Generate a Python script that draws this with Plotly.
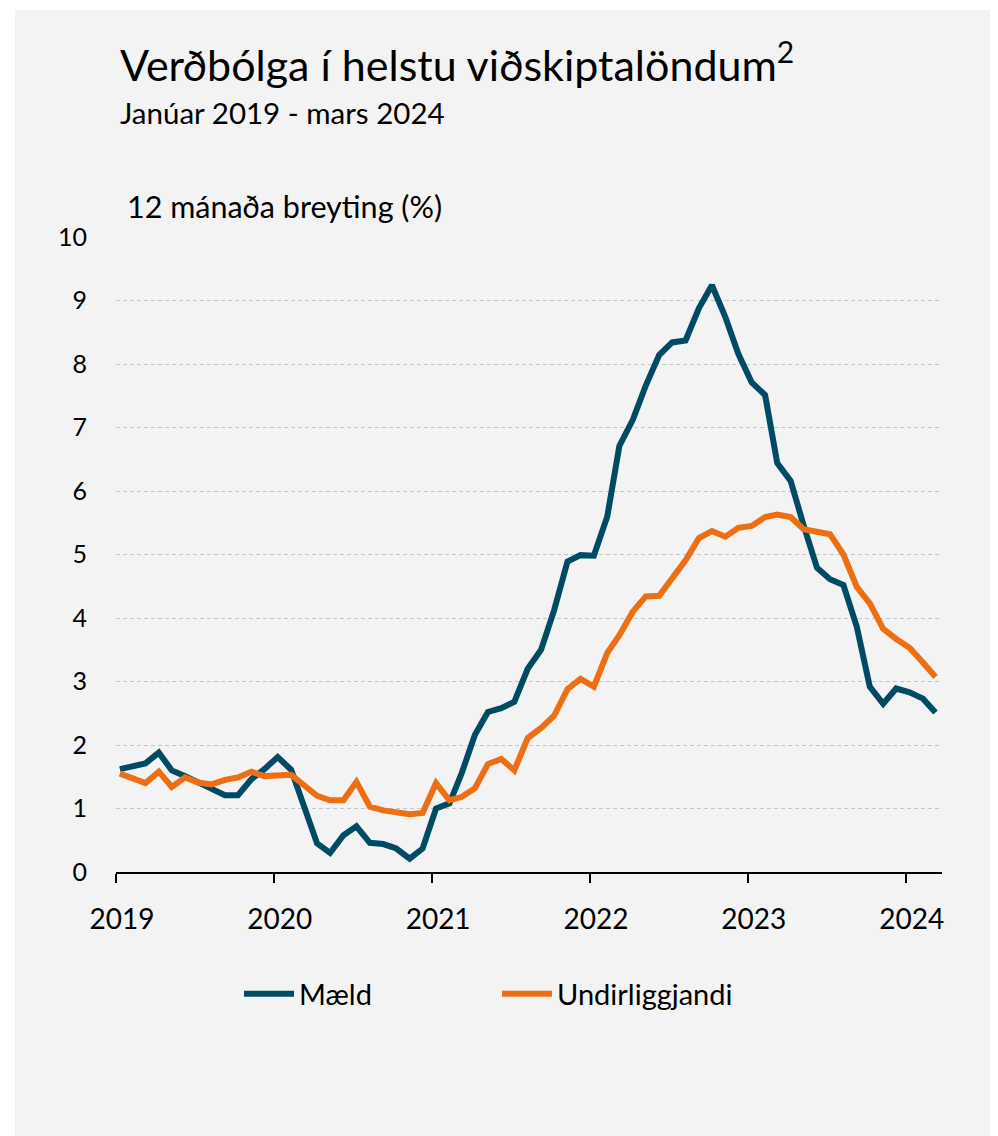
import pandas as pd
import plotly.graph_objects as go

months = pd.date_range("2019-01-01", "2024-03-01", freq="MS")

maeld = [
    1.62, 1.66, 1.71, 1.88, 1.60, 1.51, 1.42, 1.32, 1.21, 1.21, 1.46, 1.62,
    1.81, 1.61, 1.06, 0.45, 0.30, 0.58, 0.72, 0.46, 0.44, 0.37, 0.21, 0.37,
    1.00, 1.08, 1.55, 2.16, 2.52, 2.58, 2.68, 3.20, 3.50, 4.12, 4.89, 4.99,
    4.98, 5.60, 6.71, 7.12, 7.66, 8.14, 8.34, 8.37, 8.88, 9.24, 8.74, 8.16,
    7.71, 7.51, 6.44, 6.16, 5.46, 4.79, 4.61, 4.52, 3.86, 2.92, 2.65, 2.89,
    2.83, 2.73, 2.51,
]

undirliggjandi = [
    1.55, 1.48, 1.40, 1.58, 1.34, 1.49, 1.41, 1.38, 1.45, 1.49, 1.58, 1.51,
    1.52, 1.53, 1.37, 1.20, 1.13, 1.13, 1.42, 1.03, 0.97, 0.95, 0.91, 0.93,
    1.40, 1.13, 1.18, 1.32, 1.70, 1.78, 1.60, 2.11, 2.27, 2.46, 2.88, 3.04,
    2.92, 3.45, 3.73, 4.10, 4.34, 4.35, 4.63, 4.91, 5.26, 5.37, 5.28, 5.42,
    5.45, 5.59, 5.63, 5.59, 5.40, 5.36, 5.32, 5.00, 4.49, 4.23, 3.83, 3.67,
    3.53, 3.30, 3.07,
]

series_names = ["Mæld", "Undirliggjandi"]
series_colors = ["#004b64", "#ee6e14"]
year_ticks = ["2019", "2020", "2021", "2022", "2023", "2024"]
y_ticks = list(range(0, 11))

title_text = "Verðbólga í helstu viðskiptalöndum<sup>2</sup>"
subtitle_text = "Janúar 2019 - mars 2024"
ytitle_text = "12 mánaða breyting (%)"

FONT = "Lato"
BG = "#f3f3f3"

x_dates = months + pd.Timedelta(days=9)

fig = go.Figure()
for name, vals, col in zip(series_names, [maeld, undirliggjandi], series_colors):
    fig.add_trace(go.Scatter(
        x=x_dates, y=vals, mode="lines", name=name,
        line=dict(color=col, width=6, shape="linear"),
    ))

# figure pixel coordinates (page has an 8px body margin)
L, R, T, B = 108, 934, 229, 864
W, H = 990, 1128
pw, ph = R - L, B - T

def px(x):
    return (x - L) / pw

def py(y):
    return (B - y) / ph

fig.update_layout(
    width=W, height=H,
    margin=dict(l=L, r=W - R, t=T, b=H - B, pad=0),
    paper_bgcolor="white",
    plot_bgcolor=BG,
    font=dict(family=FONT, color="#000000", size=24),
    showlegend=True,
    legend=dict(
        orientation="h", x=px(231), xanchor="left", y=py(986), yanchor="middle",
        font=dict(size=29, family=FONT, color="#000000"),
        bgcolor="rgba(0,0,0,0)", entrywidth=193, entrywidthmode="pixels",
        itemwidth=50, tracegroupgap=0,
    ),
    shapes=[dict(
        type="rect", xref="paper", yref="paper",
        x0=px(7), x1=px(1000), y0=py(1140), y1=py(2),
        fillcolor=BG, line=dict(width=0), layer="below",
    )],
    annotations=[
        dict(text=title_text, xref="paper", yref="paper", x=px(110), y=py(53),
             xanchor="left", yanchor="middle", showarrow=False,
             font=dict(size=43, family=FONT, color="#000000")),
        dict(text=subtitle_text, xref="paper", yref="paper", x=px(110), y=py(105),
             xanchor="left", yanchor="middle", showarrow=False,
             font=dict(size=29.5, family=FONT, color="#000000")),
        dict(text=ytitle_text, xref="paper", yref="paper", x=px(117), y=py(198),
             xanchor="left", yanchor="middle", showarrow=False,
             font=dict(size=30.5, family=FONT, color="#000000")),
    ],
)

fig.update_xaxes(
    type="date",
    range=["2019-01-01", "2024-03-25"],
    tickvals=[pd.Timestamp(y + "-01-01") for y in year_ticks],
    ticktext=year_ticks,
    showgrid=False, zeroline=False,
    showline=True, linecolor="#000000", linewidth=2,
    ticks="outside", ticklen=9, tickwidth=2, tickcolor="#000000",
    tickfont=dict(size=28, family=FONT, color="#000000"),
    ticklabelshift=6, ticklabelstandoff=12,
    fixedrange=True,
)
fig.update_yaxes(
    range=[0, 10],
    tickvals=y_ticks,
    ticktext=[str(v) for v in y_ticks],
    showgrid=True, gridcolor="#c6c6c6", gridwidth=1, griddash="4px,3px",
    zeroline=False, showline=False, ticks="",
    tickfont=dict(size=25, family=FONT, color="#000000"),
    ticklabelstandoff=28,
    fixedrange=True,
)

fig.write_html("out.html")
